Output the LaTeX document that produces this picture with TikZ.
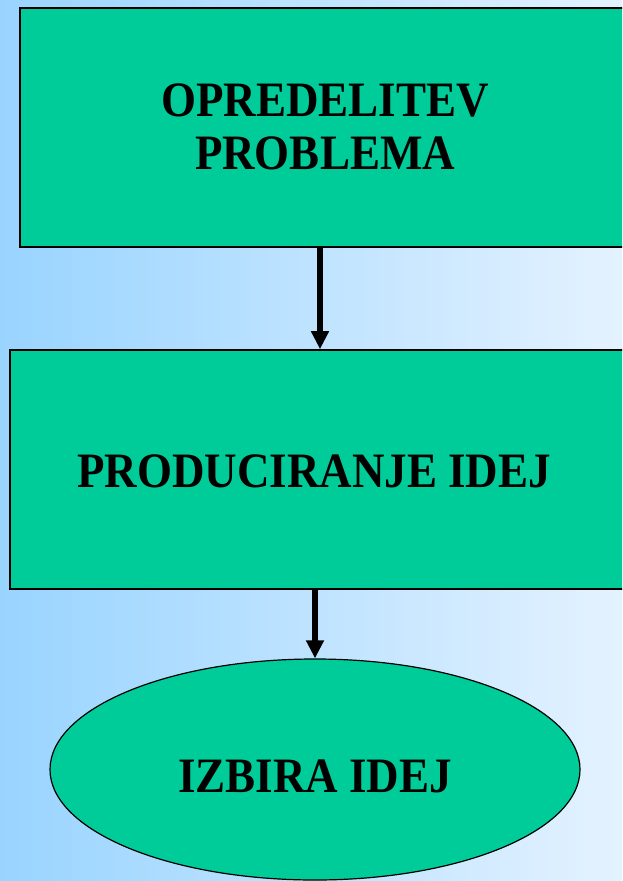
\documentclass[tikz,border=0pt]{standalone}
\usepackage{fontspec}
\setmainfont{Liberation Serif}
\usetikzlibrary{shapes.geometric,arrows.meta}
\definecolor{boxgreen}{RGB}{0,204,153}
\definecolor{bgleft}{RGB}{153,212,255}
\definecolor{bgright}{RGB}{228,242,255}
\tikzset{
  flowbox/.style={draw=black, line width=1.6pt, fill=boxgreen, rectangle, inner sep=0pt},
  flowoval/.style={draw=black, line width=1.2pt, fill=boxgreen, ellipse, inner sep=0pt},
  flowtext/.style={font=\bfseries\fontsize{45}{48}\selectfont, align=center},
  flowarrow/.style={line width=5.5pt, -{Triangle[length=18pt,width=17pt]}}
}
\newcommand{\tallbox}[1]{\scalebox{1}[1.1]{#1}}
\begin{document}
\begin{tikzpicture}[x=1pt,y=-1pt]
\useasboundingbox (0,0) rectangle (622,881);
\shade[left color=bgleft, right color=bgright, shading angle=90] (0,0) rectangle (622,881);
\begin{scope}
\clip (0,0) rectangle (622,881);
\node[flowbox, minimum width=620pt, minimum height=239pt,
      label={[flowtext, xshift=-5pt, yshift=-5pt]center:\tallbox{\begin{tabular}{@{}c@{}}OPREDELITEV\\PROBLEMA\end{tabular}}}]
      (b1) at (330,127.5) {};
\node[flowbox, minimum width=630pt, minimum height=239pt,
      label={[flowtext, xshift=-11pt, yshift=-2pt]center:\tallbox{PRODUCIRANJE IDEJ}}]
      (b2) at (325,469.5) {};
\node[flowoval, minimum width=530pt, minimum height=221pt,
      label={[flowtext, yshift=-7pt]center:\tallbox{IZBIRA IDEJ}}]
      (e) at (315,769.5) {};
\draw[flowarrow] ([xshift=-10pt]b1.south) -- ([xshift=-10pt]b1.south |- b2.north);
\draw[flowarrow] ([xshift=-10pt]b2.south) -- (e.north);
\end{scope}
\end{tikzpicture}
\end{document}
